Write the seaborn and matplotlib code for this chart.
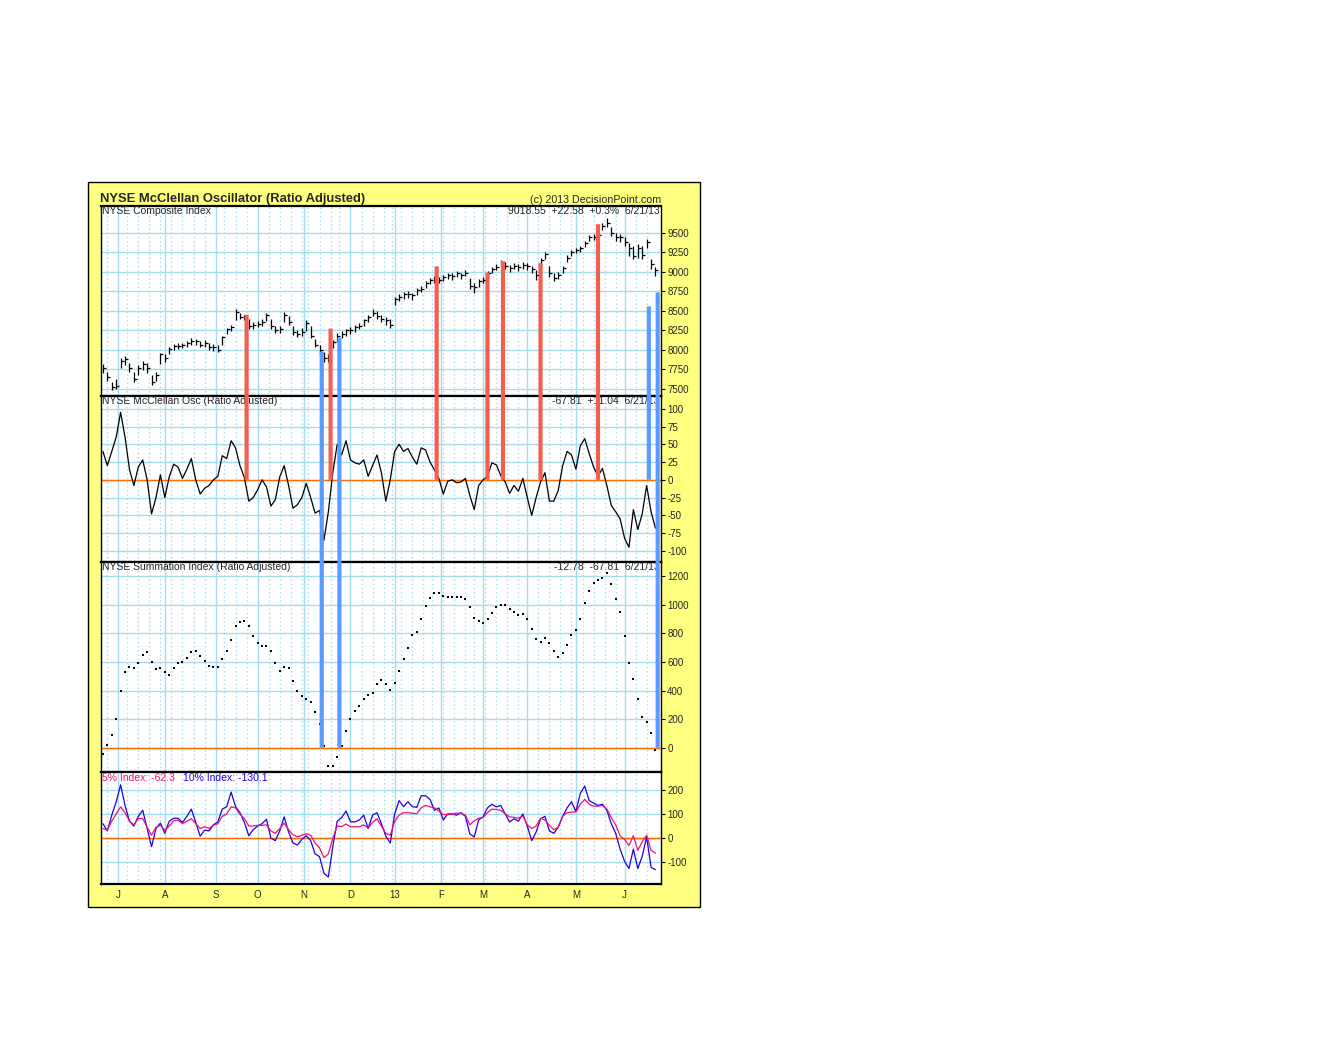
import numpy as np
import pandas as pd
import matplotlib
matplotlib.use("Agg")
import matplotlib.pyplot as plt
import seaborn as sns
from matplotlib.patches import Rectangle, ConnectionPatch
from matplotlib.ticker import FixedLocator

# NYSE sessions 6/20/12 - 6/21/13
holidays = ["2012-07-04", "2012-09-03", "2012-10-29", "2012-10-30", "2012-11-22",
            "2012-12-25", "2013-01-01", "2013-01-21", "2013-02-18", "2013-03-29",
            "2013-05-27"]
days = pd.bdate_range("2012-06-20", "2013-06-21")
days = days[~days.isin(pd.to_datetime(holidays))]
pos = np.arange(len(days))
x = pos[1::2]

# NYSE Composite (2-session bars)
comp_close = [7760, 7650, 7520, 7540, 7850, 7880, 7760, 7630, 7760, 7820,
              7760, 7580, 7680, 7940, 7900, 8010, 8050, 8050, 8060, 8080,
              8110, 8110, 8060, 8090, 8030, 8040, 8000, 8160, 8260, 8290,
              8480, 8420, 8430, 8300, 8320, 8330, 8360, 8440, 8300, 8250,
              8260, 8440, 8360, 8230, 8200, 8230, 8340, 8180, 8060, 7990,
              7890, 7880, 8100, 8180, 8200, 8250, 8250, 8290, 8310, 8380,
              8420, 8470, 8430, 8400, 8380, 8320, 8650, 8680, 8710, 8720,
              8700, 8760, 8780, 8850, 8890, 8900, 8890, 8930, 8960, 8950,
              8980, 8960, 8990, 8820, 8800, 8880, 8900, 8980, 9030, 9060,
              9120, 9070, 9050, 9080, 9060, 9090, 9070, 9030, 8960, 9150,
              9230, 8980, 8920, 8960, 9050, 9180, 9250, 9280, 9300, 9370,
              9440, 9450, 9470, 9590, 9620, 9500, 9440, 9440, 9380, 9300,
              9200, 9300, 9220, 9380, 9100, 9020]
comp_hi = [7820, 7720, 7580, 7620, 7900, 7920, 7830, 7720, 7800, 7860,
           7830, 7680, 7720, 7960, 7950, 8040, 8070, 8080, 8090, 8110,
           8150, 8140, 8110, 8120, 8080, 8070, 8060, 8180, 8280, 8320,
           8520, 8470, 8450, 8390, 8360, 8370, 8400, 8470, 8390, 8310,
           8300, 8490, 8430, 8300, 8250, 8280, 8380, 8300, 8140, 8060,
           7970, 7950, 8130, 8220, 8240, 8270, 8290, 8320, 8340, 8400,
           8450, 8520, 8500, 8440, 8420, 8400, 8670, 8710, 8740, 8750,
           8730, 8790, 8820, 8880, 8920, 8940, 8930, 8960, 8990, 8980,
           9010, 8990, 9020, 8920, 8850, 8910, 8930, 9010, 9060, 9100,
           9150, 9120, 9090, 9110, 9100, 9120, 9110, 9080, 9020, 9180,
           9260, 9080, 8980, 9000, 9080, 9210, 9280, 9310, 9330, 9400,
           9470, 9490, 9500, 9620, 9690, 9580, 9500, 9480, 9440, 9370,
           9330, 9350, 9330, 9420, 9170, 9060]
comp_lo = [7700, 7600, 7480, 7500, 7760, 7800, 7720, 7590, 7680, 7740,
           7700, 7550, 7600, 7820, 7840, 7940, 8000, 8010, 8020, 8030,
           8060, 8060, 8030, 8040, 7990, 7980, 7970, 8060, 8200, 8240,
           8380, 8390, 8380, 8270, 8270, 8290, 8310, 8370, 8260, 8220,
           8210, 8360, 8320, 8190, 8160, 8170, 8240, 8150, 8030, 7930,
           7840, 7840, 8020, 8100, 8150, 8180, 8200, 8230, 8260, 8310,
           8360, 8430, 8400, 8350, 8320, 8280, 8580, 8630, 8650, 8660,
           8640, 8700, 8740, 8790, 8840, 8860, 8850, 8880, 8910, 8900,
           8930, 8910, 8950, 8780, 8730, 8800, 8850, 8930, 8990, 9020,
           9070, 9040, 9000, 9030, 9010, 9040, 9020, 8990, 8900, 9080,
           9170, 8930, 8880, 8910, 8990, 9120, 9200, 9240, 9260, 9320,
           9400, 9410, 9430, 9540, 9580, 9460, 9390, 9380, 9330, 9200,
           9160, 9180, 9170, 9300, 9040, 8940]

# McClellan Oscillator (ratio adjusted)
osc = [40, 20, 40, 60, 95, 60, 15, -8, 18, 28,
       0, -48, -25, 7, -25, 4, 22, 18, 2, 15,
       30, 0, -20, -12, -8, 0, 5, 34, 30, 55,
       45, 20, 3, -30, -25, -14, 0, -10, -37, -28,
       4, 20, -8, -40, -35, -25, -5, -25, -47, -43,
       -85, -45, 10, 50, 35, 55, 28, 24, 22, 28,
       5, 20, 35, 10, -30, 0, 40, 50, 40, 44,
       32, 22, 45, 42, 25, 14, 2, -20, -2, 0,
       -4, -3, 2, -22, -42, -8, 0, 5, 24, 21,
       6, -3, -19, -8, -16, 2, -25, -50, -25, -3,
       10, -30, -30, -15, 20, 40, 35, 15, 48, 58,
       37, 18, 5, 16, -8, -36, -45, -55, -82, -95,
       -42, -70, -48, -8, -45, -68]

# Summation Index (ratio adjusted)
summ = [-42, 20, 90, 200, 400, 530, 562, 557, 590, 650,
        669, 600, 552, 557, 530, 512, 555, 590, 603, 625,
        669, 675, 645, 605, 575, 564, 564, 620, 680, 757,
        855, 880, 890, 855, 780, 734, 711, 713, 675, 595,
        540, 565, 560, 465, 395, 361, 338, 318, 250, 165,
        15, -126, -128, -65, 15, 116, 200, 258, 290, 338,
        368, 385, 447, 475, 447, 405, 450, 540, 620, 700,
        790, 812, 900, 995, 1050, 1080, 1080, 1065, 1055, 1052,
        1058, 1053, 1040, 985, 910, 884, 874, 900, 945, 983,
        1002, 1000, 972, 952, 928, 935, 900, 830, 760, 740,
        767, 730, 680, 635, 665, 720, 790, 825, 900, 1010,
        1100, 1150, 1177, 1190, 1220, 1147, 1040, 950, 780, 590,
        480, 340, 215, 179, 100, -13]

# 10% and 5% trend indices
pct10 = [60, 30, 95, 150, 220, 135, 70, 50, 90, 115,
         40, -35, 40, 62, 20, 70, 82, 82, 65, 90,
         120, 65, 8, 33, 30, 55, 67, 120, 130, 190,
         130, 105, 65, 10, 35, 50, 60, 78, 0, -10,
         30, 88, 25, -20, -28, -5, 10, -10, -65, -76,
         -145, -160, -35, 70, 85, 112, 68, 67, 75, 95,
         40, 95, 105, 60, 8, -20, 100, 155, 130, 150,
         130, 127, 175, 175, 160, 115, 125, 75, 100, 100,
         95, 105, 90, 18, 5, 75, 88, 125, 140, 129,
         135, 100, 67, 80, 70, 100, 50, -10, 25, 80,
         90, 30, 20, 45, 90, 125, 150, 110, 185, 215,
         155, 145, 135, 140, 115, 60, 20, -45, -95, -125,
         -45, -125, -75, 5, -120, -130]
pct5 = [40, 33, 70, 100, 129, 105, 70, 55, 81, 81,
        45, 12, 45, 53, 33, 50, 72, 74, 60, 70,
        80, 60, 40, 47, 40, 53, 60, 90, 100, 129,
        125, 98, 81, 50, 50, 53, 53, 55, 30, 20,
        40, 62, 35, 14, 6, 12, 18, 12, -20, -40,
        -80, -65, 0, 50, 48, 58, 47, 47, 47, 55,
        42, 65, 80, 50, 20, 12, 70, 95, 105, 105,
        103, 101, 125, 135, 129, 125, 112, 97, 98, 98,
        104, 102, 95, 55, 72, 82, 86, 105, 120, 118,
        115, 100, 88, 86, 82, 92, 55, 40, 50, 82,
        75, 53, 35, 45, 90, 105, 108, 108, 140, 160,
        140, 132, 132, 135, 120, 85, 55, 10, -5, -30,
        10, -50, -15, 12, -50, -62]

# signal markers (session index, composite level at top)
sell_days = [66, 104, 152, 175, 182, 199, 225]
sell_tops = [8450, 8270, 9070, 8990, 9135, 9110, 9610]
buy_days = [100, 108, 248, 252]
buy_tops = [7975, 8155, 8555, 8735]
buy_ends = ["sum", "sum", "osc", "sum"]

month_labels = ["J", "A", "S", "O", "N", "D", "13", "F", "M", "A", "M", "J"]
mon = days.month.values
month_pos = pos[1:][mon[1:] != mon[:-1]]
week_pos = pos[1:][np.diff(days.dayofweek.values) < 0]
week_pos = [w for w in week_pos if w not in set(month_pos)]

sns.set_style("white")
plt.rcParams["font.family"] = ["Liberation Sans", "DejaVu Sans"]
plt.rcParams["axes.unicode_minus"] = False

W, H = 1338, 1047
fig = plt.figure(figsize=(W / 100, H / 100), dpi=100)
fig.add_artist(Rectangle((88 / W, 1 - 907 / H), 612 / W, 725 / H,
                         transform=fig.transFigure, facecolor="#ffff80",
                         edgecolor="black", lw=1, zorder=-5))

GRID = "#a6dcef"
ZERO = "#ff6a00"
RED = "#f25f50"
BLUE = "#5a9bff"


def panel(top, bot):
    ax = fig.add_axes([100.5 / W, 1 - bot / H, 560.5 / W, (bot - top) / H])
    ax.set_facecolor("white")
    return ax


ax1 = panel(206, 396)
ax2 = panel(396, 561.5)
ax3 = panel(561.5, 771.5)
ax4 = panel(771.5, 884)

# composite bars
ax1.vlines(x, comp_lo, comp_hi, color="black", lw=0.9)
ax1.plot(x, comp_close, ls="none", marker=1, ms=2.5, mew=0.9, color="black")

ax2.axhline(0, color=ZERO, lw=1)
sns.lineplot(x=x, y=osc, ax=ax2, color="black", lw=0.9, estimator=None, sort=False)

ax3.axhline(0, color=ZERO, lw=1)
sns.scatterplot(x=x, y=summ, ax=ax3, color="black", marker="s", s=4, linewidth=0)

ax4.axhline(0, color=ZERO, lw=1)
sns.lineplot(x=x, y=pct10, ax=ax4, color="#2200dd", lw=0.9, estimator=None, sort=False)
sns.lineplot(x=x, y=pct5, ax=ax4, color="#ee1177", lw=0.9, estimator=None, sort=False)

limits = {ax1: (7406, 9844), ax2: (-115, 118), ax3: (-166, 1303), ax4: (-189, 275)}
yticks = {ax1: range(7500, 9501, 250), ax2: range(-100, 101, 25),
          ax3: range(0, 1201, 200), ax4: range(-100, 201, 100)}

for ax in (ax1, ax2, ax3, ax4):
    ax.set_xlim(-0.1, 253.5)
    ax.set_ylim(*limits[ax])
    ax.set_yticks(list(yticks[ax]))
    ax.xaxis.set_major_locator(FixedLocator(month_pos))
    ax.xaxis.set_minor_locator(FixedLocator(week_pos))
    ax.grid(which="major", color=GRID, lw=1, ls="-")
    ax.grid(which="minor", axis="x", color=GRID, lw=1, ls=(0, (1, 2)))
    ax.set_axisbelow(True)
    ax.yaxis.tick_right()
    ax.tick_params(axis="y", which="major", direction="out", length=3, width=0.8,
                   color="black", labelsize=7, pad=1.5, right=True, left=False)
    ax.tick_params(axis="x", which="both", length=0, labelbottom=False)
    ax.set_xlabel("")
    ax.set_ylabel("")
    for name, s in ax.spines.items():
        s.set_color("black")
        s.set_linewidth(1.6 if name in ("top", "bottom") else 1.0)

ax4.set_xticks(month_pos)
ax4.set_xticklabels(month_labels)
ax4.tick_params(axis="x", which="major", length=3, width=0.8, color="black",
                direction="out", labelbottom=True, labelsize=7, pad=1)

txt = dict(fontsize=7.5, va="top")
ax1.text(0.003, 0.998, "NYSE Composite Index", transform=ax1.transAxes, ha="left", **txt)
ax1.text(0.997, 0.998, "9018.55  +22.58  +0.3%  6/21/13", transform=ax1.transAxes, ha="right", **txt)
ax2.text(0.003, 0.997, "NYSE McClellan Osc (Ratio Adjusted)", transform=ax2.transAxes, ha="left", **txt)
ax2.text(0.997, 0.997, "-67.81  +11.04  6/21/13", transform=ax2.transAxes, ha="right", **txt)
ax3.text(0.003, 0.998, "NYSE Summation Index (Ratio Adjusted)", transform=ax3.transAxes, ha="left", **txt)
ax3.text(0.997, 0.998, "-12.78  -67.81  6/21/13", transform=ax3.transAxes, ha="right", **txt)
ax4.text(0.003, 0.99, "5% Index: -62.3", transform=ax4.transAxes, ha="left", color="#ee1177", **txt)
ax4.text(0.147, 0.99, "10% Index: -130.1", transform=ax4.transAxes, ha="left", color="#2200dd", **txt)

fig.text(100 / W, 1 - 199 / H, "NYSE McClellan Oscillator (Ratio Adjusted)",
         fontsize=9.4, fontweight="bold", ha="left", va="center")
fig.text(661 / W, 1 - 200 / H, "(c) 2013 DecisionPoint.com", fontsize=7.7,
         ha="right", va="center")

# signal lines across panels
for d, top in zip(sell_days, sell_tops):
    fig.add_artist(ConnectionPatch((d, top), (d, 0), "data", "data", axesA=ax1, axesB=ax2,
                                   color=RED, lw=3, capstyle="butt", zorder=5))
for d, top, end in zip(buy_days, buy_tops, buy_ends):
    fig.add_artist(ConnectionPatch((d, top), (d, 0), "data", "data", axesA=ax1,
                                   axesB=ax3 if end == "sum" else ax2,
                                   color=BLUE, lw=3, capstyle="butt", zorder=5))

fig.savefig("out.png", dpi=100)
